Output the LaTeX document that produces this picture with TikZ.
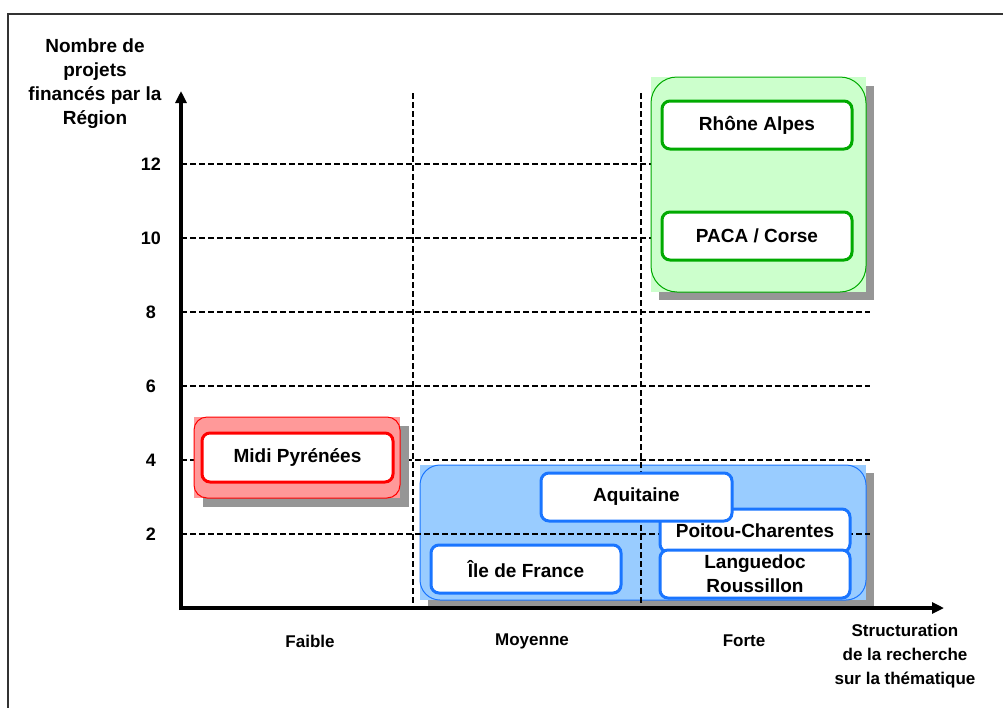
\documentclass[tikz,border=0pt]{standalone}
\usepackage{fontspec}
\setmainfont{Liberation Sans}
\usepackage{xcolor}
\usepackage{tikz}
\usetikzlibrary{arrows.meta}

\definecolor{vertfond}{HTML}{CCFFCC}
\definecolor{vertbord}{HTML}{00AA00}
\definecolor{rougefond}{HTML}{FF9999}
\definecolor{rougebord}{HTML}{FF0000}
\definecolor{bleufond}{HTML}{99CCFF}
\definecolor{bleubord}{HTML}{1A75FF}
\definecolor{ombregris}{HTML}{969696}

\begin{document}
\begin{tikzpicture}[x=1pt,y=-1pt,
		grille/.style={dash pattern=on 6pt off 3pt,line width=1.5pt},
		axe/.style={line width=4pt,-{Triangle[length=12pt,width=11pt]}},
		ombre/.style={fill=ombregris},
		groupe/.style={rectangle,draw,line width=1pt,inner sep=0pt},
		region/.style={rectangle,rounded corners=8pt,draw,line width=3pt,fill=white,minimum width=190pt,minimum height=48pt,inner sep=0pt,align=center,font=\fontsize{19}{24}\selectfont\bfseries},
		graduation/.style={font=\fontsize{18}{22}\selectfont\bfseries},
		etiquette/.style={font=\fontsize{17}{24}\selectfont\bfseries,align=center}]
				\useasboundingbox (0,0) rectangle (1003,707);
				\draw[line width=1.2pt,black!80] (8,714) -- (8,14) -- (1010,14);
				% groupe bleu (sous la grille)
				\fill[ombre] (428,473) rectangle (874,607);
				\fill[bleufond] (420,465) rectangle (866,600);
				\node[groupe,draw=bleubord,rounded corners=20pt,minimum width=446pt,minimum height=135pt] (bleu) at (643,532.5) {};
				% grille
				\foreach \v/\y in {2/534,4/460,6/386,8/312,10/238,12/164}{
					\draw[grille] (181,\y) -- (870,\y);
					\node[graduation] (g\v) at (151,\y) {\v};
				}
				\draw[grille] (413,93) -- (413,607);
				\draw[grille] (641,93) -- (641,607);
				% groupe rouge et groupe vert
				\fill[ombre] (203,426) rectangle (409,507);
				\fill[rougefond] (194,417) rectangle (400,498);
				\node[groupe,draw=rougebord,rounded corners=13pt,minimum width=206pt,minimum height=81pt] (rouge) at (297,457.5) {};
				\fill[ombre] (659,86) rectangle (874,300);
				\fill[vertfond] (651,77) rectangle (866,292);
				\node[groupe,draw=vertbord,rounded corners=26pt,minimum width=215pt,minimum height=215pt] (vert) at (758.5,184.5) {};
				% regions
				\node[region,draw=vertbord] (rhone) at (757,125) {Rhône Alpes};
				\node[region,draw=vertbord] (paca) at (757,236) {PACA / Corse};
				\node[region,draw=rougebord,minimum width=191pt,minimum height=49pt] (midi) at (297.5,457.5) {Midi Pyrénées};
				\node[region,draw=bleubord,minimum height=43pt] (poitou) at (755,530.5) {Poitou-Charentes};
				\node[region,draw=bleubord] (langue) at (755,574) {Languedoc\\Roussillon};
				\node[region,draw=bleubord,minimum width=191pt] (aquit) at (636.5,497) {Aquitaine};
				\node[region,draw=bleubord] (idf) at (526,569) {Île de France};
				% axes
				\coordinate (origine) at (181,608);
				\coordinate (haut) at (181,91);
				\coordinate (droite) at (944,608);
				\draw[axe] ([yshift=-2pt]origine) -- (haut);
				\draw[axe] ([xshift=-2pt]origine) -- (droite);
				\node[font=\fontsize{19}{24}\selectfont\bfseries,align=center] (titrey) at (95,84) {Nombre de\\projets\\financés par la\\Région};
				\path (310,641) node[etiquette] (faible) {Faible}
				(532,641) node[etiquette] (moyenne) {Moyenne}
				(744,641) node[etiquette] (forte) {Forte}
				(905,656) node[etiquette] (titrex) {Structuration\\de la recherche\\sur la thématique};
			\end{tikzpicture}
\end{document}
